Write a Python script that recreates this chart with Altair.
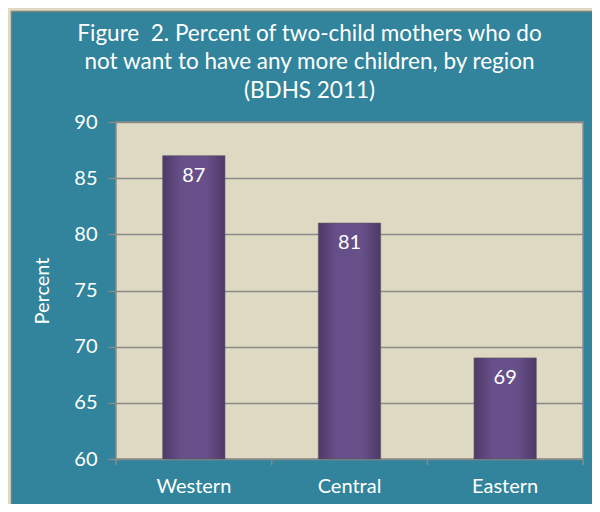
import altair as alt
import pandas as pd

regions = ["Western", "Central", "Eastern"]
percents = [87, 81, 69]
y_ticks = [60, 65, 70, 75, 80, 85, 90]
title_lines = ["Figure\u00a0 2. Percent of two-child mothers who do",
               "not want to have any more children, by region",
               "(BDHS 2011)"]

TEAL = "#31849B"
BEIGE = "#DDD9C3"
GREY = "#8A8A8A"
FONT = "Lato"
FS = 20
W, H = 467, 337

df = pd.DataFrame({"region": regions, "pct": percents})

xscale = alt.Scale(domain=regions, paddingInner=0.6, paddingOuter=0.3)
yscale = alt.Scale(domain=[60, 90], zero=False, nice=False)

bars = alt.Chart(df).mark_bar(
    color=alt.Gradient(
        gradient="linear", x1=0, x2=1, y1=0, y2=0,
        stops=[alt.GradientStop(color="#4E3966", offset=0),
               alt.GradientStop(color="#67508A", offset=0.3),
               alt.GradientStop(color="#67508A", offset=0.7),
               alt.GradientStop(color="#4E3966", offset=1)]),
    stroke="#5A5560", strokeWidth=1, strokeOpacity=0.6
).encode(
    x=alt.X("region:N", scale=xscale, sort=regions, title=None,
            axis=alt.Axis(labelAngle=0, ticks=False, domain=False,
                          labelFontSize=FS, labelColor="white", labelFont=FONT,
                          labelPadding=17)),
    y=alt.Y("pct:Q", scale=yscale, title="Percent",
            axis=alt.Axis(values=y_ticks, grid=True, gridColor=GREY, gridWidth=1.5,
                          domain=False, tickColor=GREY, tickSize=8, tickWidth=1.5,
                          labelFontSize=FS, labelColor="white", labelFont=FONT,
                          labelPadding=11,
                          titleFontSize=FS, titleColor="white", titleFont=FONT,
                          titleFontWeight="normal", titleAngle=270,
                          titleX=-74, titleY=H / 2, titleAlign="center",
                          titleBaseline="middle")),
    y2=alt.datum(60),
)

labels = alt.Chart(df).mark_text(
    color="white", fontSize=FS, font=FONT, baseline="top", dy=10
).encode(
    x=alt.X("region:N", scale=xscale, sort=regions),
    y=alt.Y("pct:Q", scale=yscale),
    text=alt.Text("pct:Q"),
)

main = alt.layer(bars, labels)

# x ticks at band boundaries
tick_df = pd.DataFrame({"region": regions})
xticks = alt.Chart(tick_df).mark_rule(color=GREY, strokeWidth=1.5).encode(
    x=alt.X("region:N", sort=regions, bandPosition=0,
            scale=alt.Scale(domain=regions, paddingInner=0, paddingOuter=0), axis=None),
    y=alt.value(H), y2=alt.value(H + 6),
)
last_tick = alt.Chart(tick_df.head(1)).mark_rule(color=GREY, strokeWidth=1.5).encode(
    x=alt.value(W), y=alt.value(H), y2=alt.value(H + 6),
)

# beige outer frame strips (left and top)
one = tick_df.head(1)
strip_left = alt.Chart(one).mark_rect(color=BEIGE).encode(
    x=alt.value(-108), x2=alt.value(-105), y=alt.value(-114), y2=alt.value(382))
strip_top = alt.Chart(one).mark_rect(color=BEIGE).encode(
    x=alt.value(-108), x2=alt.value(476), y=alt.value(-114), y2=alt.value(-111))
edge_left = alt.Chart(one).mark_rule(color="#7F7F7F", strokeWidth=1.5).encode(
    x=alt.value(-104.5), y=alt.value(-111), y2=alt.value(382))
edge_top = alt.Chart(one).mark_rule(color="#7F7F7F", strokeWidth=1.5).encode(
    x=alt.value(-105), x2=alt.value(476), y=alt.value(-110.5))

chart = alt.layer(
    strip_left, strip_top, edge_left, edge_top, main, xticks, last_tick
).resolve_scale(x="independent").properties(
    width=W, height=H,
    background=TEAL,
    padding={"left": 108, "top": 114, "right": 9, "bottom": 45},
    autosize=alt.AutoSizeParams(type="none"),
    title=alt.TitleParams(
        text=title_lines, fontSize=22.5, lineHeight=28.5, color="white", font=FONT,
        fontWeight="normal", anchor="middle", dx=-40, offset=0, dy=94,
    ),
).configure_view(
    fill=BEIGE, stroke=GREY, strokeWidth=1.5
)

chart.save("out.html", embed_options={"renderer": "svg", "actions": False})
